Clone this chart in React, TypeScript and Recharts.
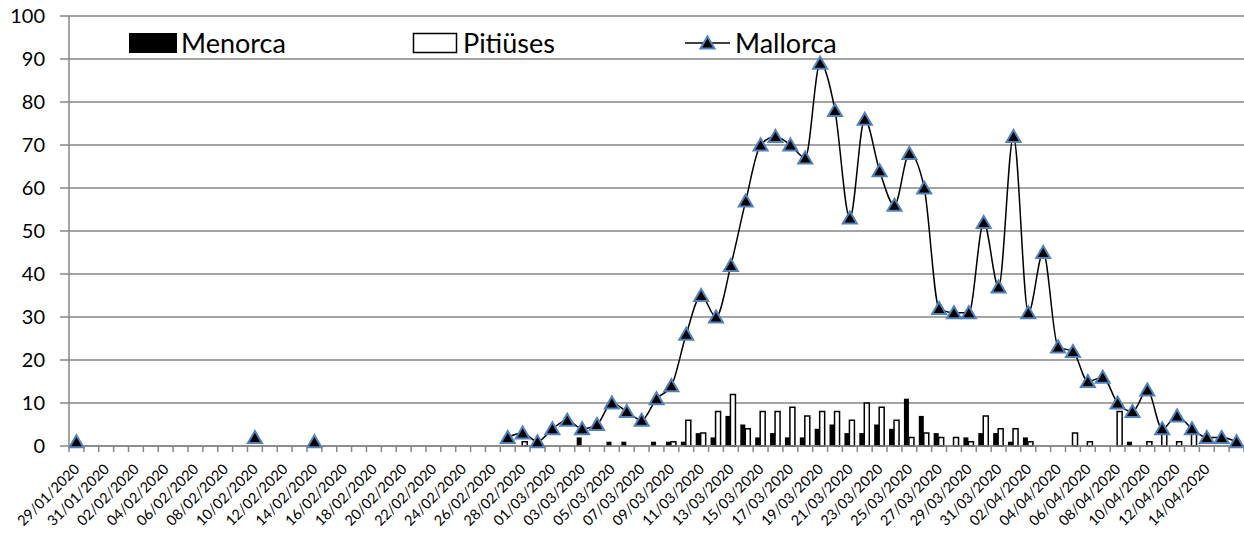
import { ComposedChart, Bar, Line, XAxis, YAxis, CartesianGrid, Customized } from "recharts";

const dates = [
  "29/01/2020", "30/01/2020", "31/01/2020",
  "01/02/2020", "02/02/2020", "03/02/2020", "04/02/2020", "05/02/2020", "06/02/2020", "07/02/2020",
  "08/02/2020", "09/02/2020", "10/02/2020", "11/02/2020", "12/02/2020", "13/02/2020", "14/02/2020",
  "15/02/2020", "16/02/2020", "17/02/2020", "18/02/2020", "19/02/2020", "20/02/2020", "21/02/2020",
  "22/02/2020", "23/02/2020", "24/02/2020", "25/02/2020", "26/02/2020", "27/02/2020", "28/02/2020",
  "29/02/2020",
  "01/03/2020", "02/03/2020", "03/03/2020", "04/03/2020", "05/03/2020", "06/03/2020", "07/03/2020",
  "08/03/2020", "09/03/2020", "10/03/2020", "11/03/2020", "12/03/2020", "13/03/2020", "14/03/2020",
  "15/03/2020", "16/03/2020", "17/03/2020", "18/03/2020", "19/03/2020", "20/03/2020", "21/03/2020",
  "22/03/2020", "23/03/2020", "24/03/2020", "25/03/2020", "26/03/2020", "27/03/2020", "28/03/2020",
  "29/03/2020", "30/03/2020", "31/03/2020",
  "01/04/2020", "02/04/2020", "03/04/2020", "04/04/2020", "05/04/2020", "06/04/2020", "07/04/2020",
  "08/04/2020", "09/04/2020", "10/04/2020", "11/04/2020", "12/04/2020", "13/04/2020", "14/04/2020",
  "15/04/2020", "16/04/2020",
];

const n = null;

const mallorca = [
  1, n, n, n, n, n, n, n, n, n,
  n, n, 2, n, n, n, 1, n, n, n,
  n, n, n, n, n, n, n, n, n, 2,
  3, 1, 4, 6, 4, 5, 10, 8, 6, 11,
  14, 26, 35, 30, 42, 57, 70, 72, 70, 67,
  89, 78, 53, 76, 64, 56, 68, 60, 32, 31,
  31, 52, 37, 72, 31, 45, 23, 22, 15, 16,
  10, 8, 13, 4, 7, 4, 2, 2, 1,
];

const menorca = [
  n, n, n, n, n, n, n, n, n, n,
  n, n, n, n, n, n, n, n, n, n,
  n, n, n, n, n, n, n, n, n, n,
  n, n, n, n, 2, n, 1, 1, n, 1,
  1, 1, 3, 2, 7, 5, 2, 3, 2, 2,
  4, 5, 3, 3, 5, 4, 11, 7, 3, n,
  2, 3, 3, 1, 2, n, n, n, n, n,
  n, 1, n, n, n, n, n, n, n,
];

const pitiuses = [
  n, n, n, n, n, n, n, n, n, n,
  n, n, n, n, n, n, n, n, n, n,
  n, n, n, n, n, n, n, n, n, n,
  1, n, n, n, n, n, n, n, n, n,
  1, 6, 3, 8, 12, 4, 8, 8, 9, 7,
  8, 8, 6, 10, 9, 6, 2, 3, 2, 2,
  1, 7, 4, 4, 1, n, n, 3, 1, n,
  8, n, 1, 3, 1, 3, n, n, n,
];

const yTicks = [0, 10, 20, 30, 40, 50, 60, 70, 80, 90, 100];

const chartData = dates.map((date, i) => ({
  date,
  Menorca: menorca[i],
  Pitiuses: pitiuses[i],
  Mallorca: mallorca[i],
}));

const FONT = "Lato, 'Open Sans', sans-serif";
const AXIS_GRAY = "#868686";
const MARKER_BLUE = "#4f81bd";

// Excel style triangle marker
const Triangle = ({ cx, cy }: { cx: number; cy: number }) => (
  <polygon
    points={`${cx},${cy - 6.5} ${cx + 7},${cy + 5.5} ${cx - 7},${cy + 5.5}`}
    fill="#000"
    stroke={MARKER_BLUE}
    strokeWidth={2}
    strokeLinejoin="miter"
  />
);

const TriangleDot = (props: any) => {
  const { cx, cy, value } = props;
  if (value === null || value === undefined || cy == null) return null;
  return <Triangle key={props.index} cx={cx} cy={cy} />;
};

// tick marks sit on category boundaries, labels every other day
const DateTick = (props: any) => {
  const { x, y, payload, index } = props;
  const half = payload && payload.offset ? payload.offset : 7.4;
  const last = index === dates.length - 1;
  const showLabel = index % 2 === 0 && !last;
  return (
    <g>
      <line x1={x - half} x2={x - half} y1={y} y2={y + 6} stroke={AXIS_GRAY} strokeWidth={1.5} />
      {last && <line x1={x + half} x2={x + half} y1={y} y2={y + 6} stroke={AXIS_GRAY} strokeWidth={1.5} />}
      {showLabel && (
        <text
          x={x + 4}
          y={y + 24}
          textAnchor="end"
          transform={`rotate(-45 ${x + 4} ${y + 24})`}
          style={{ fontSize: 14.5, fontFamily: FONT }}
          fill="#000"
        >
          {payload.value}
        </text>
      )}
    </g>
  );
};

const ValueTick = (props: any) => {
  const { x, y, payload } = props;
  return (
    <text
      x={x - 2}
      y={y}
      dy="0.36em"
      textAnchor="end"
      style={{ fontSize: 20, fontFamily: FONT }}
      fill="#000"
    >
      {payload.value}
    </text>
  );
};

const LegendBox = () => (
  <g style={{ fontFamily: FONT, fontSize: 27 }} fill="#000">
    <rect x={129} y={33} width={48} height={20} fill="#000" />
    <text x={181} y={53}>Menorca</text>
    <rect x={413.5} y={33.5} width={43} height={19} fill="#fff" stroke="#000" strokeWidth={1.5} />
    <text x={463} y={53}>Pitiüses</text>
    <line x1={685} x2={730} y1={43} y2={43} stroke="#000" strokeWidth={1.5} />
    <Triangle cx={707.5} cy={43} />
    <text x={735} y={53}>Mallorca</text>
  </g>
);

export default function App() {
  return (
    <div style={{ position: "absolute", left: 0, top: 0, background: "#fff" }}>
      <ComposedChart
        width={1244}
        height={533}
        data={chartData}
        margin={{ top: 16, right: 0, bottom: 0, left: 0 }}
        barGap={0}
      >
        <CartesianGrid vertical={false} stroke={AXIS_GRAY} strokeWidth={1.5} />
        <XAxis
          dataKey="date"
          interval={0}
          height={87}
          tickSize={0}
          tickMargin={0}
          tickLine={false}
          axisLine={{ stroke: AXIS_GRAY, strokeWidth: 1.5 }}
          tick={<DateTick />}
        />
        <YAxis
          width={69}
          domain={[0, 100]}
          ticks={yTicks}
          interval={0}
          tickSize={9}
          tickMargin={13}
          tickLine={{ stroke: AXIS_GRAY, strokeWidth: 1.5 }}
          axisLine={{ stroke: AXIS_GRAY, strokeWidth: 1.5 }}
          tick={<ValueTick />}
        />
        <Bar dataKey="Menorca" fill="#000" barSize={5} isAnimationActive={false} />
        <Bar dataKey="Pitiuses" fill="#fff" stroke="#000" strokeWidth={1.5} barSize={5} isAnimationActive={false} />
        <Line
          type="monotone"
          dataKey="Mallorca"
          stroke="#000"
          strokeWidth={1.5}
          connectNulls={false}
          dot={<TriangleDot />}
          activeDot={false}
          isAnimationActive={false}
        />
        <Customized component={LegendBox} />
      </ComposedChart>
    </div>
  );
}
